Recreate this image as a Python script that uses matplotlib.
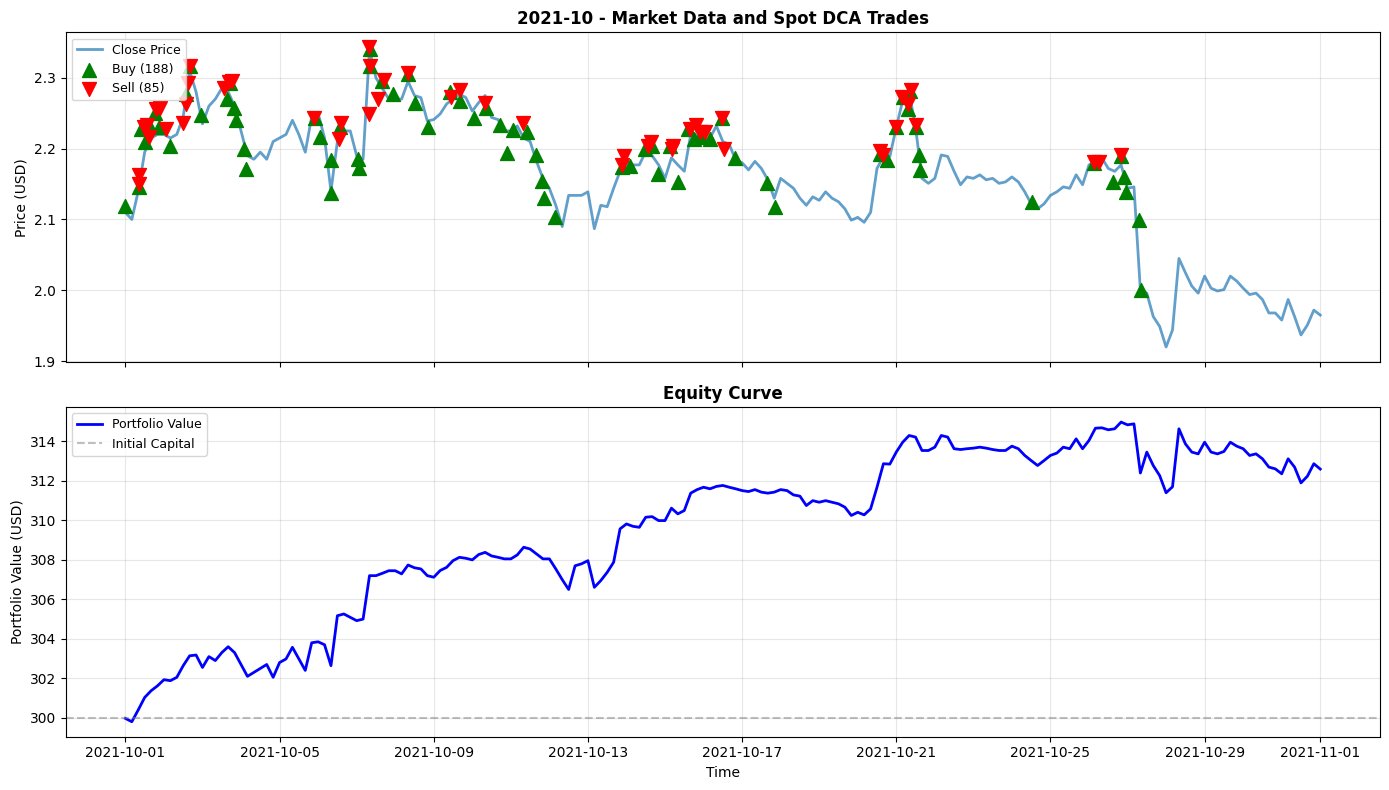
import numpy as np
import pandas as pd
import matplotlib
matplotlib.use("Agg")
import matplotlib.pyplot as plt

# close price, one value every 4 hours from 2021-10-01 00:00 (6 per day)
close_price = [
    2.11, 2.10, 2.14, 2.195, 2.215, 2.22,
    2.22, 2.215, 2.22, 2.245, 2.31, 2.28,
    2.235, 2.26, 2.27, 2.285, 2.28, 2.26,
    2.225, 2.19, 2.185, 2.195, 2.185, 2.21,
    2.215, 2.22, 2.24, 2.22, 2.195, 2.245,
    2.25, 2.215, 2.14, 2.21, 2.225, 2.225,
    2.19, 2.185, 2.34, 2.30, 2.285, 2.27,
    2.27, 2.27, 2.295, 2.275, 2.272, 2.239,
    2.241, 2.249, 2.263, 2.27, 2.277, 2.272,
    2.253, 2.265, 2.275, 2.244, 2.241, 2.225,
    2.225, 2.232, 2.215, 2.21, 2.182, 2.158,
    2.144, 2.12, 2.09, 2.134, 2.134, 2.134,
    2.139, 2.087, 2.12, 2.118, 2.144, 2.168,
    2.182, 2.177, 2.177, 2.196, 2.19, 2.177,
    2.158, 2.187, 2.177, 2.168, 2.22, 2.22,
    2.21, 2.215, 2.232, 2.21, 2.206, 2.184,
    2.18, 2.17, 2.182, 2.172, 2.156, 2.13,
    2.158, 2.151, 2.144, 2.13, 2.12, 2.132,
    2.127, 2.139, 2.13, 2.125, 2.115, 2.099,
    2.103, 2.096, 2.11, 2.172, 2.189, 2.189,
    2.23, 2.268, 2.28, 2.23, 2.158, 2.151,
    2.158, 2.191, 2.189, 2.168, 2.149, 2.16,
    2.158, 2.163, 2.156, 2.158, 2.151, 2.153,
    2.16, 2.153, 2.139, 2.122, 2.115, 2.122,
    2.134, 2.139, 2.146, 2.144, 2.163, 2.149,
    2.177, 2.182, 2.187, 2.172, 2.168, 2.177,
    2.144, 2.146, 2.00, 1.996, 1.963, 1.949,
    1.92, 1.944, 2.045, 2.025, 2.006, 1.996,
    2.02, 2.003, 1.999, 2.001, 2.02, 2.013,
    2.003, 1.994, 1.996, 1.987, 1.968, 1.968,
    1.958, 1.987, 1.963, 1.937, 1.951, 1.972,
    1.965,
]

# portfolio value, same 4-hour steps
portfolio_value = [
    299.97, 299.8, 300.4, 301.03, 301.37, 301.62,
    301.93, 301.88, 302.05, 302.64, 303.14, 303.18,
    302.55, 303.1, 302.9, 303.3, 303.6, 303.3,
    302.7, 302.1, 302.3, 302.5, 302.7, 302.05,
    302.8, 302.98, 303.57, 302.98, 302.4, 303.8,
    303.85, 303.7, 302.64, 305.17, 305.26, 305.09,
    304.92, 305.0, 307.2, 307.2, 307.32, 307.45,
    307.45, 307.29, 307.74, 307.6, 307.54, 307.2,
    307.12, 307.46, 307.62, 307.96, 308.13, 308.08,
    308.0, 308.27, 308.38, 308.2, 308.13, 308.05,
    308.05, 308.25, 308.64, 308.55, 308.3, 308.05,
    308.05, 307.54, 307.0, 306.5, 307.7, 307.8,
    307.96, 306.61, 306.95, 307.37, 307.88, 309.57,
    309.82, 309.7, 309.65, 310.16, 310.19, 309.99,
    309.99, 310.62, 310.33, 310.5, 311.38, 311.56,
    311.68, 311.6, 311.72, 311.77, 311.68, 311.6,
    311.51, 311.46, 311.56, 311.43, 311.38, 311.43,
    311.56, 311.51, 311.29, 311.23, 310.75, 311.0,
    310.92, 311.0, 310.92, 310.84, 310.67, 310.25,
    310.41, 310.28, 310.58, 311.68, 312.87, 312.85,
    313.46, 313.96, 314.3, 314.22, 313.54, 313.54,
    313.71, 314.3, 314.22, 313.63, 313.59, 313.63,
    313.66, 313.71, 313.66, 313.59, 313.54, 313.54,
    313.76, 313.63, 313.29, 313.03, 312.78, 313.03,
    313.29, 313.41, 313.71, 313.63, 314.13, 313.63,
    314.05, 314.67, 314.69, 314.59, 314.64, 314.98,
    314.84, 314.89, 312.4, 313.46, 312.78, 312.27,
    311.4, 311.7, 314.64, 313.88, 313.46, 313.37,
    313.96, 313.46, 313.37, 313.49, 313.96, 313.76,
    313.63, 313.29, 313.37, 313.12, 312.7, 312.61,
    312.36, 313.12, 312.7, 311.9, 312.24, 312.87,
    312.6,
]

# trades: days after 2021-10-01 and fill price
buy_days = [0.00, 0.34, 0.41, 0.52, 0.65, 0.78, 0.86, 1.17, 1.56, 1.68,
            1.97, 2.64, 2.72, 2.83, 2.88, 3.08, 3.14, 4.92, 5.05, 5.34,
            5.34, 5.57, 6.04, 6.07, 6.35, 6.35, 6.66, 6.95, 7.34, 7.52,
            7.85, 8.42, 8.68, 9.05, 9.36, 9.72, 9.90, 10.06, 10.42, 10.65,
            10.81, 10.86, 11.15, 12.88, 13.09, 13.48, 13.66, 13.82, 14.13, 14.33,
            14.59, 14.75, 14.90, 15.16, 15.47, 15.81, 16.64, 16.85, 19.57, 19.75,
            19.98, 20.17, 20.30, 20.35, 20.50, 20.58, 20.61, 23.51, 25.14, 25.61,
            25.84, 25.92, 25.95, 26.31, 26.36]
buy_price = [2.119, 2.146, 2.227, 2.21, 2.23, 2.25, 2.23, 2.203, 2.277, 2.316,
             2.247, 2.27, 2.293, 2.257, 2.24, 2.20, 2.171, 2.243, 2.216, 2.184,
             2.137, 2.231, 2.186, 2.173, 2.341, 2.317, 2.296, 2.277, 2.306, 2.264,
             2.23, 2.28, 2.267, 2.243, 2.257, 2.233, 2.194, 2.226, 2.224, 2.191,
             2.154, 2.13, 2.104, 2.174, 2.176, 2.20, 2.203, 2.164, 2.203, 2.153,
             2.227, 2.214, 2.217, 2.214, 2.243, 2.187, 2.151, 2.117, 2.193, 2.184,
             2.23, 2.273, 2.256, 2.281, 2.231, 2.191, 2.17, 2.124, 2.179, 2.153,
             2.19, 2.16, 2.139, 2.099, 2.001]

sell_days = [0.34, 0.34, 0.47, 0.57, 0.60, 0.80, 0.91, 1.06, 1.50, 1.58,
             1.63, 1.68, 2.57, 2.70, 2.77, 4.90, 5.55, 5.60, 6.32, 6.32,
             6.35, 6.56, 6.71, 7.34, 8.45, 8.68, 9.33, 10.32, 12.88, 12.93,
             13.56, 13.63, 14.18, 14.20, 14.64, 14.80, 14.90, 15.03, 15.47, 15.53,
             19.57, 19.65, 19.98, 20.14, 20.30, 20.37, 20.50, 25.12, 25.25, 25.84]
sell_price = [2.163, 2.15, 2.231, 2.234, 2.216, 2.256, 2.257, 2.227, 2.236, 2.263,
              2.293, 2.317, 2.286, 2.294, 2.296, 2.243, 2.214, 2.236, 2.249, 2.343,
              2.317, 2.27, 2.297, 2.307, 2.273, 2.283, 2.264, 2.236, 2.177, 2.19,
              2.204, 2.209, 2.20, 2.204, 2.227, 2.233, 2.224, 2.223, 2.243, 2.20,
              2.196, 2.191, 2.23, 2.273, 2.263, 2.283, 2.233, 2.181, 2.181, 2.191]

n_buys = 188
n_sells = 85
initial_capital = 300

start = pd.Timestamp("2021-10-01")
times = pd.date_range(start, periods=len(close_price), freq="4h")
buy_times = start + pd.to_timedelta(buy_days, unit="D")
sell_times = start + pd.to_timedelta(sell_days, unit="D")

fig, ax = plt.subplots(2, 1, figsize=(14, 8), dpi=100, sharex=True)

# price + trades
ax[0].plot(times, close_price, color="C0", linewidth=2, alpha=0.7, label="Close Price")
ax[0].scatter(buy_times, buy_price, color="green", marker="^", s=100, zorder=5,
              label=f"Buy ({n_buys})")
ax[0].scatter(sell_times, sell_price, color="red", marker="v", s=100, zorder=5,
              label=f"Sell ({n_sells})")
ax[0].set_ylabel("Price (USD)")
ax[0].set_title("2021-10 - Market Data and Spot DCA Trades", fontweight="bold")
ax[0].legend(loc="upper left", fontsize=9)
ax[0].grid(True, alpha=0.3)

# equity
ax[1].plot(times, portfolio_value, color="blue", linewidth=2, label="Portfolio Value")
ax[1].axhline(initial_capital, color="gray", linestyle="--", alpha=0.5, label="Initial Capital")
ax[1].set_xlabel("Time")
ax[1].set_ylabel("Portfolio Value (USD)")
ax[1].set_title("Equity Curve", fontweight="bold")
ax[1].legend(loc="upper left", fontsize=9)
ax[1].grid(True, alpha=0.3)

plt.tight_layout()
plt.savefig("out.png", bbox_inches="tight")
